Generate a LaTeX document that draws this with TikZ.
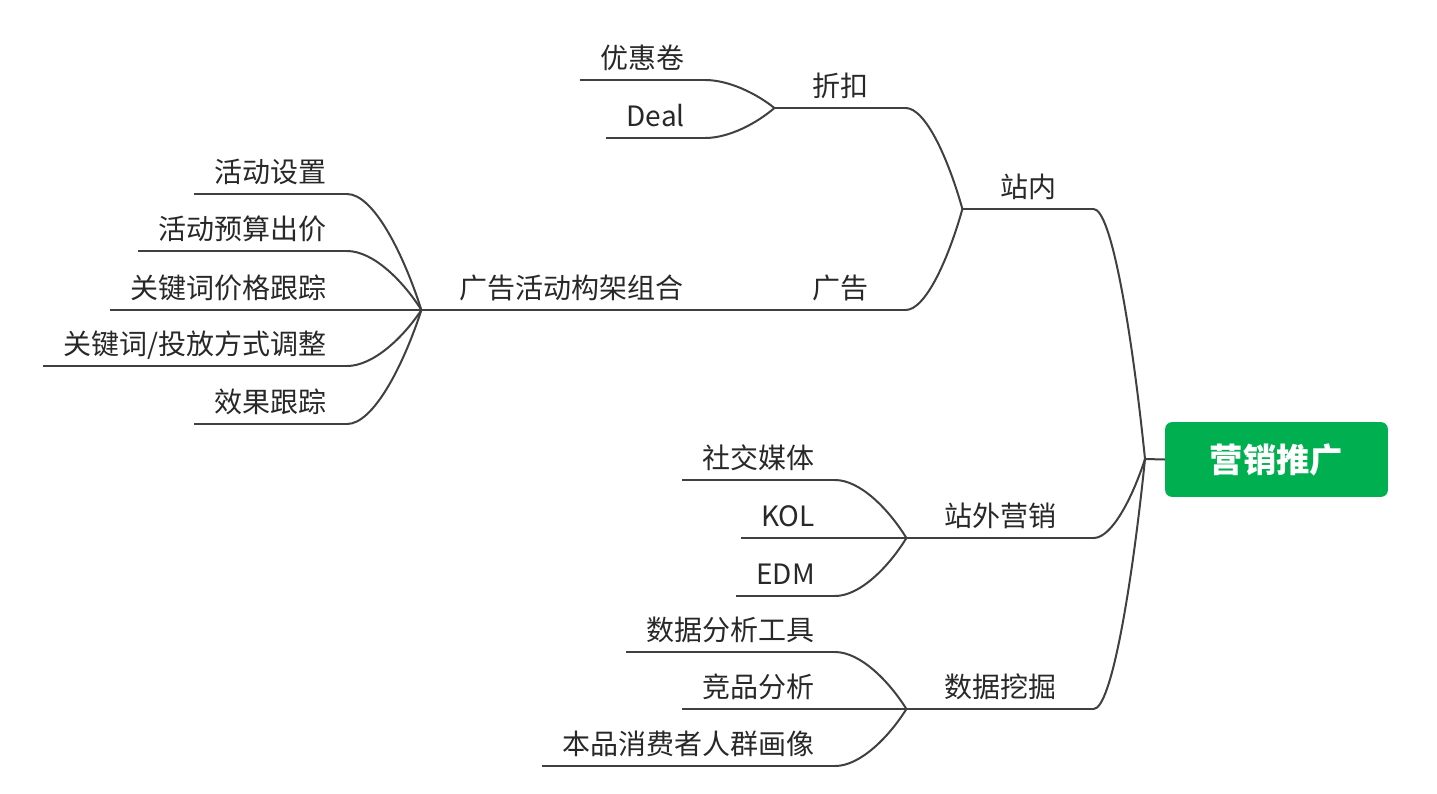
\documentclass[tikz,border=0pt]{standalone}
\usepackage{fontspec}
\setmainfont{Noto Sans CJK SC}
\usetikzlibrary{calc}
\definecolor{linegray}{RGB}{64,64,64}
\definecolor{rootgreen}{RGB}{0,176,80}
\definecolor{txtgray}{RGB}{40,40,40}

\begin{document}
\begin{tikzpicture}[x=0.75pt,y=-0.75pt,
  topic/.style={anchor=south, inner xsep=28pt, inner ysep=4.5pt, text height=16pt, text depth=4pt,
    font=\fontsize{21}{25}\selectfont, text=txtgray},
  leaf/.style={topic, anchor=south east, inner xsep=15pt},
  conn/.style={draw=linegray, line width=1.5pt},
  branch/.style={to path={let \p1=(\tikztostart), \p2=(\tikztotarget) in
    .. controls ({\x1+0.35*(\x2-\x1)},\y1) and ({\x2-0.25*(\x2-\x1)},{\y2+0.5*(\y1-\y2)}) .. (\tikztotarget)}}]
\useasboundingbox (0,0) rectangle (1437,793);
% central topic
\node[fill=rootgreen, rounded corners=5pt, minimum width=167pt, minimum height=56pt,
  text=white, font=\fontsize{25}{30}\selectfont\bfseries] (root) at (1276.5,459.5) {营销推广};
\coordinate (hub) at (1145,459);
\draw[conn] (hub) -- (root.west);
% main branches
\node[topic] (zhannei) at (1028,209) {站内};
\node[topic] (zhanwai) at (1000,538) {站外营销};
\node[topic] (wajue) at (1000,709) {数据挖掘};
% sub topics
\node[topic] (zhekou) at (840,108) {折扣};
\node[topic] (guanggao) at (840,310) {广告};
\node[topic] (goujia) at (571,310) {广告活动构架组合};
% leaves
\node[leaf] (youhui) at (705,80) {优惠卷};
\node[leaf] (deal) at (705,138) {Deal};
\node[leaf] (shezhi) at (347,194) {活动设置};
\node[leaf] (yusuan) at (347,251) {活动预算出价};
\node[leaf] (jiage) at (347,310) {关键词价格跟踪};
\node[leaf] (toufang) at (347,366) {关键词/投放方式调整};
\node[leaf] (xiaoguo) at (347,424) {效果跟踪};
\node[leaf] (shejiao) at (835,480) {社交媒体};
\node[leaf] (kol) at (835,538) {KOL};
\node[leaf] (edm) at (835,596) {EDM};
\node[leaf] (gongju) at (835,652) {数据分析工具};
\node[leaf] (jingpin) at (835,709) {竞品分析};
\node[leaf] (huaxiang) at (835,766) {本品消费者人群画像};
% underlines
\foreach \n in {zhannei,zhanwai,wajue,zhekou,guanggao,goujia,youhui,deal,shezhi,yusuan,jiage,
  toufang,xiaoguo,shejiao,kol,edm,gongju,jingpin,huaxiang}
  \draw[conn] (\n.south west) -- (\n.south east);
% connectors
\foreach \a in {zhannei,zhanwai,wajue}
  \draw[conn] (\a.south east) to[branch] (hub);
\foreach \a/\b in {zhekou/zhannei,guanggao/zhannei,goujia/guanggao,youhui/zhekou,deal/zhekou,
  shezhi/goujia,yusuan/goujia,jiage/goujia,toufang/goujia,xiaoguo/goujia,
  shejiao/zhanwai,kol/zhanwai,edm/zhanwai,gongju/wajue,jingpin/wajue,huaxiang/wajue}
  \draw[conn] (\a.south east) to[branch] (\b.south west);
\end{tikzpicture}
\end{document}
